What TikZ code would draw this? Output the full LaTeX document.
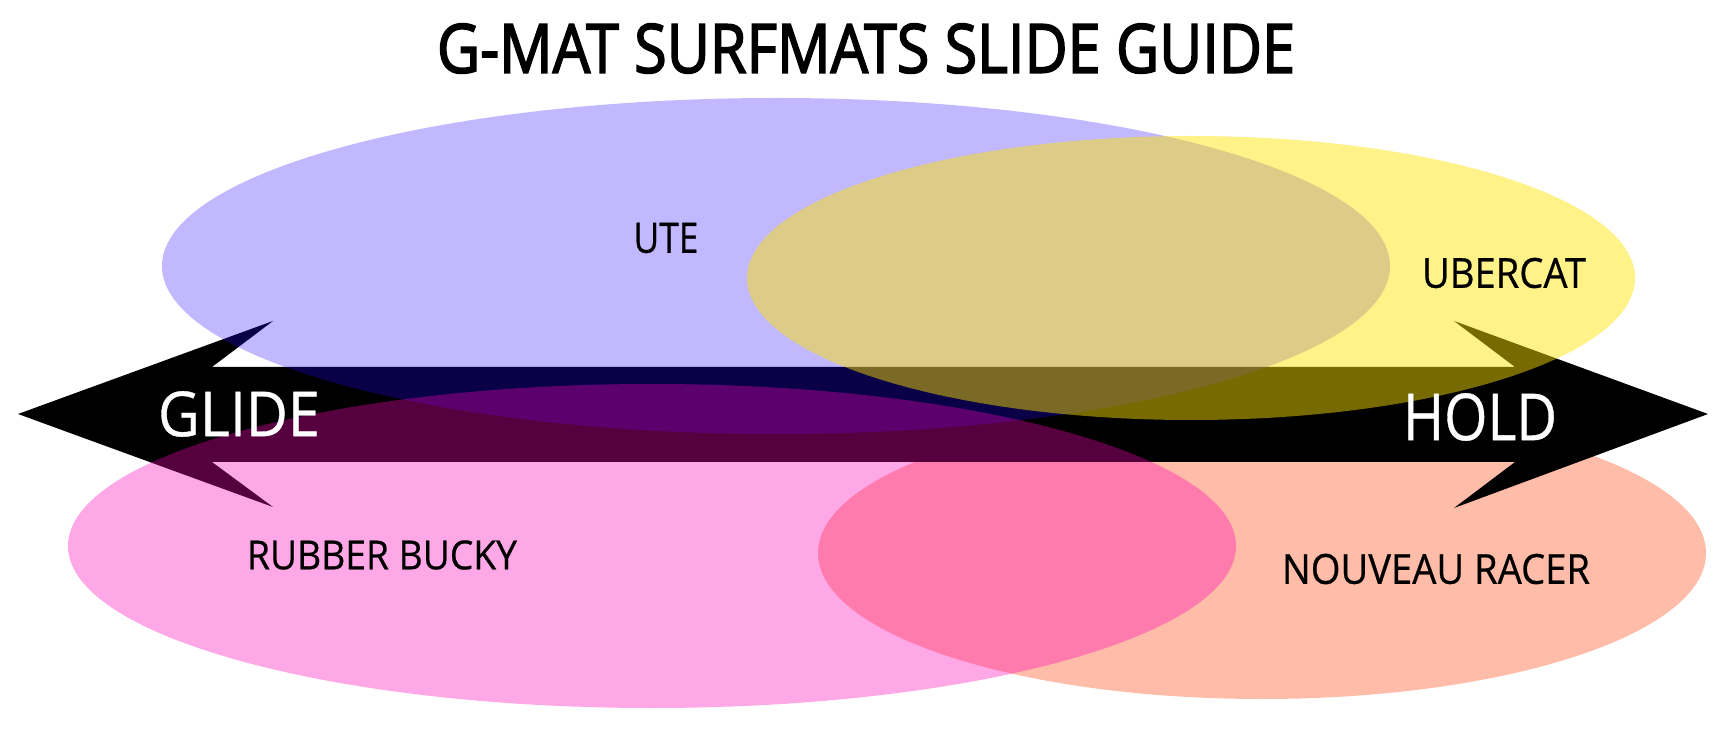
\documentclass[tikz,border=0pt]{standalone}
\usepackage{fontspec}
\setmainfont{Open Sans}
\newfontfamily\titlefont{Open Sans}[FakeBold=2.6]
\newfontfamily\labelfont{Open Sans}[FakeBold=0.6]
\usepackage{graphicx}
\definecolor{utecol}{RGB}{35,0,255}
\definecolor{ubercol}{RGB}{255,228,0}
\definecolor{buckycol}{RGB}{255,0,188}
\definecolor{racercol}{RGB}{255,188,168}
\tikzset{
  lbl/.style={inner sep=0pt, text=black, font=\labelfont},
  biglbl/.style={inner sep=0pt, text=white, font=\labelfont},
}
\newcommand{\fitt}[3]{\resizebox{#1pt}{#2pt}{#3}}
\begin{document}
\begin{tikzpicture}[x=0.5pt,y=-0.5pt]
\useasboundingbox (0,0) rectangle (1724,737);
\fill[white] (0,0) rectangle (1724,737);
% bottom layer
\fill[racercol] (1262,553) ellipse [x radius=222pt, y radius=73pt];
% arrow
\fill[black] (18,414) -- (273,321) -- (212,367) -- (1515,367) -- (1454,321) -- (1708,414)
  -- (1454,508) -- (1515,462) -- (212,462) -- (273,507) -- cycle;
% translucent layers
\fill[utecol, opacity=0.28] (776,266) ellipse [x radius=307pt, y radius=84pt];
\fill[buckycol, opacity=0.34] (652,546) ellipse [x radius=292pt, y radius=81pt];
\fill[ubercol, opacity=0.465] (1191,278) ellipse [x radius=222pt, y radius=71pt];
% texts
\node[lbl] (title) at (866,48.5) {\fitt{429}{24.5}{\titlefont G-MAT SURFMATS SLIDE GUIDE}};
\node[lbl] (ute) at (666,238) {\fitt{32.5}{15}{UTE}};
\node[lbl] (uber) at (1504,273) {\fitt{82}{15}{UBERCAT}};
\node[lbl] (bucky) at (382,555) {\fitt{135}{14.5}{RUBBER BUCKY}};
\node[lbl] (racer) at (1436,569) {\fitt{154}{15}{NOUVEAU RACER}};
\node[biglbl] (glide) at (239,414) {\fitt{81}{22.5}{GLIDE}};
\node[biglbl] (hold) at (1480,417) {\fitt{77}{23.5}{HOLD}};
\end{tikzpicture}
\end{document}
